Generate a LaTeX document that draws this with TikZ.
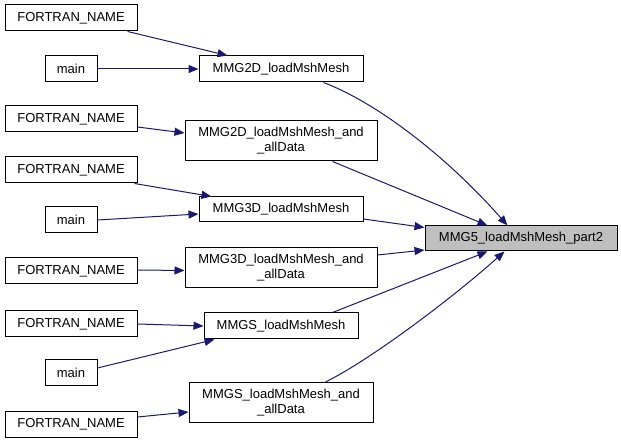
\documentclass[tikz,border=0pt]{standalone}
\usepackage{fontspec}
\setmainfont{Liberation Sans}
\usetikzlibrary{arrows.meta}
\definecolor{edgecol}{HTML}{191970}
\definecolor{hilite}{HTML}{BFBFBF}
\begin{document}
\begin{tikzpicture}[x=1pt,y=-1pt,
  box/.style={draw=black, line width=1pt, fill=white, inner sep=0pt, align=center,
              font=\fontsize{13}{15}\selectfont, minimum height=26pt},
  fnbox/.style={box, minimum width=132pt},
  mainbox/.style={box, minimum width=52pt},
  twobox/.style={box, minimum height=40pt},
  edge/.style={draw=edgecol, line width=1pt, -{Triangle[length=10pt,width=8pt]}}]
\useasboundingbox (0,0) rectangle (621,443);

% caller nodes
\node[fnbox] (fn1) at (71,18) {FORTRAN\_NAME};
\node[mainbox] (m1) at (71,69) {main};
\node[fnbox] (fn2) at (71,119) {FORTRAN\_NAME};
\node[fnbox] (fn3) at (71,170) {FORTRAN\_NAME};
\node[mainbox] (m2) at (71,220) {main};
\node[fnbox] (fn4) at (71,271) {FORTRAN\_NAME};
\node[fnbox] (fn5) at (71,324) {FORTRAN\_NAME};
\node[mainbox] (m3) at (71,373) {main};
\node[fnbox] (fn6) at (71,424) {FORTRAN\_NAME};

% middle nodes
\node[box, minimum width=164pt] (mmg2d) at (281,69) {MMG2D\_loadMshMesh};
\node[twobox, minimum width=192pt] (mmg2da) at (281,141) {MMG2D\_loadMshMesh\_and\\\_allData};
\node[box, minimum width=164pt, minimum height=25pt] (mmg3d) at (281,209.5) {MMG3D\_loadMshMesh};
\node[twobox, minimum width=192pt] (mmg3da) at (281,267.5) {MMG3D\_loadMshMesh\_and\\\_allData};
\node[box, minimum width=154pt] (mmgs) at (281,326) {MMGS\_loadMshMesh};
\node[twobox, minimum width=184pt] (mmgsa) at (281,402.5) {MMGS\_loadMshMesh\_and\\\_allData};

% target
\node[box, fill=hilite, minimum width=192pt, minimum height=25pt] (tgt) at (521,238.5) {MMG5\_loadMshMesh\_part2};

% edges to middle nodes
\draw[edge] ([xshift=-10pt]fn1.south east) -- ([xshift=29pt]mmg2d.north west);
\draw[edge] (m1.east) -- (mmg2d.west);
\draw[edge] ([yshift=-8pt]fn2.east) -- ([yshift=8pt]mmg2da.west);
\draw[edge] ([xshift=-3pt]fn3.south east) -- ([xshift=13pt]mmg3d.north west);
\draw[edge] (m2.east) -- ([yshift=-4.5pt]mmg3d.west);
\draw[edge] ([yshift=1pt]fn4.east) -- ([yshift=-3pt]mmg3da.west);
\draw[edge] (fn5.east) -- (mmgs.west);
\draw[edge] ([yshift=5pt]m3.east) -- ([xshift=11pt]mmgs.south west);
\draw[edge] ([yshift=7pt]fn6.east) -- ([yshift=-9.5pt]mmgsa.west);

% edges to target
\draw[edge] ([xshift=-40pt]mmg2d.south east) .. controls (380,104) and (450,160) .. ([xshift=83pt]tgt.north west);
\draw[edge] ([xshift=-45pt]mmg2da.south east) -- ([xshift=63pt]tgt.north west);
\draw[edge] ([yshift=-9.5pt]mmg3d.east) -- ([yshift=11pt]tgt.west);
\draw[edge] ([yshift=12.5pt]mmg3da.east) -- ([yshift=-11.5pt]tgt.west);
\draw[edge] ([xshift=-26pt]mmgs.north east) -- ([xshift=63pt]tgt.south west);
\draw[edge] ([xshift=-48pt]mmgsa.north east) .. controls (370,360) and (450,300) .. ([xshift=80pt]tgt.south west);
\end{tikzpicture}
\end{document}
